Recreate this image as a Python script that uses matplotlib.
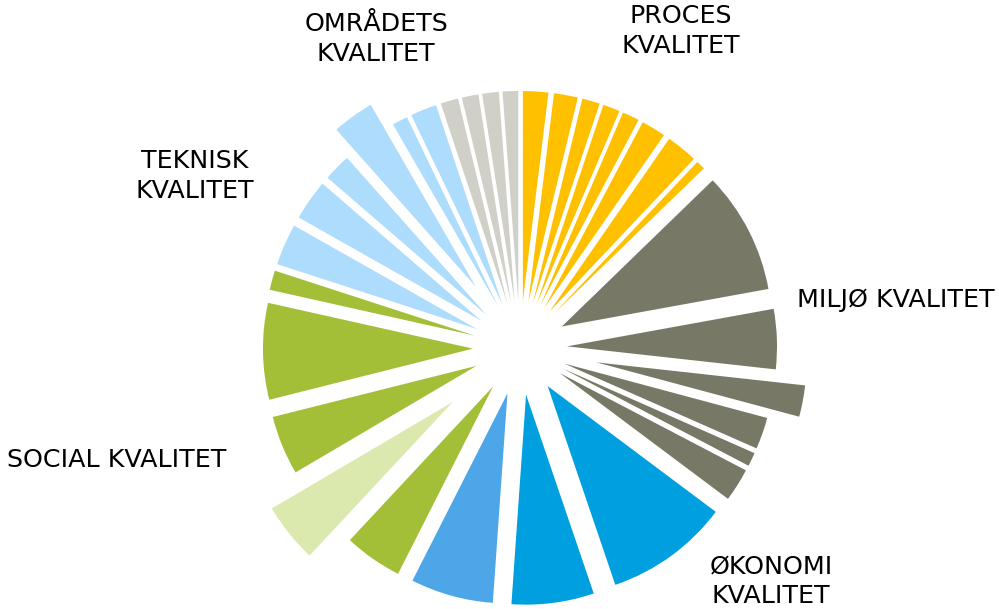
import matplotlib
matplotlib.use('Agg')
import matplotlib.pyplot as plt

# slice shares, clockwise from 12 o'clock (in degrees of the circle)
proces = [7.0, 6.6, 4.9, 4.7, 4.7, 6.8, 8.7, 2.5]
miljo = [33.8, 16.6, 8.7, 8.8, 3.8, 9.2]
okonomi = [34.4, 22.8, 22.9]
social = [16.1, 16.5, 16.4, 26.7, 5.4]
teknisk = [11.5, 11.3, 7.6, 11.6, 4.3, 7.3]
omraade = [4.9, 4.6, 4.6, 4.3]

groups = ['PROCES\nKVALITET', 'MILJØ KVALITET', 'ØKONOMI\nKVALITET',
          'SOCIAL KVALITET', 'TEKNISK\nKVALITET', 'OMRÅDETS\nKVALITET']

values = proces + miljo + okonomi + social + teknisk + omraade

colors = (['#FFC000'] * len(proces)
          + ['#787867'] * len(miljo)
          + ['#009FDF', '#009FDF', '#4DA6E8']
          + ['#A3BF37', '#DBE8AE', '#A3BF37', '#A3BF37', '#A3BF37']
          + ['#ADDCFD'] * len(teknisk)
          + ['#D0D0C8'] * len(omraade))

# explosion as fraction of radius; a few slices are pulled further out
explode = [0.224] * len(values)
explode[8 + 2] = 0.37      # third miljø slice
explode[17 + 1] = 0.41     # light green social slice
explode[22 + 3] = 0.36     # fourth teknisk slice

R = 210
fig = plt.figure(figsize=(9.99, 6.09), dpi=100)
ax = fig.add_axes([0, 0, 1, 1])
ax.pie(values, colors=colors, startangle=90, counterclock=False,
       radius=R, center=(520, 609 - 348),
       explode=[e * R for e in explode],
       wedgeprops=dict(linewidth=0))
ax.set_xlim(0, 999)
ax.set_ylim(0, 609)
ax.set_aspect('auto')
ax.axis('off')

fs = 18.3
ls = 1.3
ax.text(681, 609 - 31, groups[0], ha='center', va='center', fontsize=fs, linespacing=ls)
ax.text(797, 609 - 300, groups[1], ha='left', va='center', fontsize=fs)
ax.text(771, 609 - 581, groups[2], ha='center', va='center', fontsize=fs, linespacing=ls)
ax.text(7, 609 - 460, groups[3], ha='left', va='center', fontsize=fs)
ax.text(195, 609 - 176, groups[4], ha='center', va='center', fontsize=fs, linespacing=ls)
ax.text(376, 609 - 39, groups[5], ha='center', va='center', fontsize=fs, linespacing=ls)

fig.savefig('out.png', dpi=100)
